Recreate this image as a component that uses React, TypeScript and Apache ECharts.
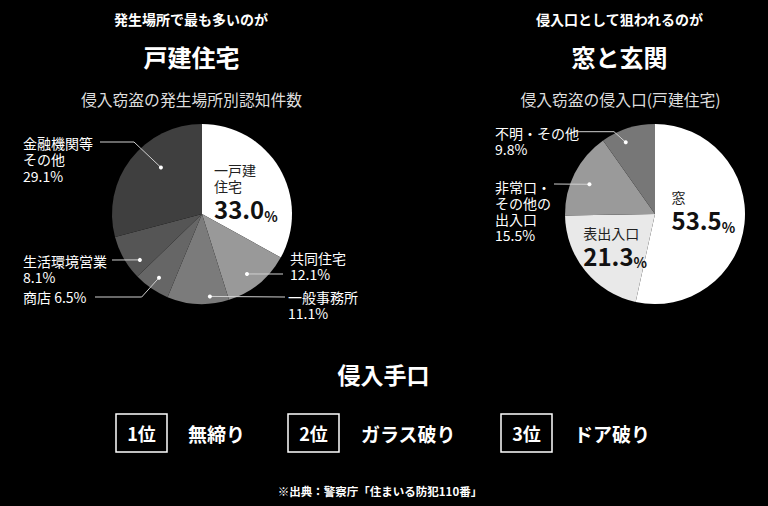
import React, { useEffect, useRef } from 'react';
import * as echarts from 'echarts';

const FONT = '"Noto Sans CJK JP", "Noto Sans", sans-serif';

// ---- data ----
const placeCategories = ['一戸建\n住宅', '共同住宅', '一般事務所', '商店', '生活環境営業', '金融機関等\nその他'];
const placeValues = [33.0, 12.1, 11.1, 6.5, 8.1, 29.1];
const entryCategories = ['窓', '表出入口', '非常口・\nその他の\n出入口', '不明・その他'];
const entryValues = [53.5, 21.3, 15.5, 9.8];
const methodRanks = ['1位', '2位', '3位'];
const methodNames = ['無締り', 'ガラス破り', 'ドア破り'];

// ---- styles / layout ----
const placeColors = ['#ffffff', '#999999', '#7b7b7b', '#666666', '#555555', '#3f3f3f'];
const entryColors = ['#ffffff', '#e9e9e9', '#9a9a9a', '#777777'];
const R = 90;
const leftCenter = [202, 214];
const rightCenter = [655, 214];

type Place = {
  kind: 'inside' | 'outside' | 'inline';
  x: number; y: number; align: 'left' | 'right';
  along?: number; rf?: number; line?: number[][];
};
const placeLayout: Place[] = [
  { kind: 'inside', x: 214, y: 161.5, align: 'left' },
  { kind: 'outside', x: 290, y: 250, align: 'left', along: 0.555, rf: 0.833, line: [[283, 274]] },
  { kind: 'outside', x: 288, y: 289, align: 'left', along: 0.3, rf: 0.92, line: [[285, 297]] },
  { kind: 'inline', x: 23, y: 289, align: 'left', along: 0.49, rf: 0.855, line: [[141.7, 297], [95, 297]] },
  { kind: 'outside', x: 23, y: 252.5, align: 'left', along: 0.26, rf: 0.858, line: [[112, 260]] },
  { kind: 'outside', x: 23, y: 135, align: 'left', along: 0.605, rf: 0.69, line: [[134, 142], [100, 142]] },
];
const entryLayout: Place[] = [
  { kind: 'inside', x: 671.5, y: 189, align: 'left' },
  { kind: 'inside', x: 583.3, y: 224.5, align: 'left' },
  { kind: 'outside', x: 495, y: 178.5, align: 'left', along: 0.455, rf: 0.8, line: [[554, 184]] },
  { kind: 'outside', x: 495, y: 124.5, align: 'left', along: 0.37, rf: 0.86, line: [[614, 131.7], [575.7, 131.7]] },
];

function slicePoint(values: number[], i: number, center: number[], along: number, rf: number) {
  const total = values.reduce((a, b) => a + b, 0);
  let start = 0;
  for (let k = 0; k < i; k++) start += values[k];
  const frac = (start + values[i] * along) / total;
  const ang = frac * Math.PI * 2;
  return [center[0] + R * rf * Math.sin(ang), center[1] - R * rf * Math.cos(ang)];
}

function labelText(name: string, value: number, kind: string) {
  const lines = name.split('\n');
  if (kind === 'inside') {
    return lines.map((l) => `{n|${l}}`).join('\n') + `\n{v|${value.toFixed(1)}}{p|%}`;
  }
  if (kind === 'inline') {
    return `{o|${name} ${value.toFixed(1)}%}`;
  }
  return lines.map((l) => `{o|${l}}`).join('\n') + `\n{o|${value.toFixed(1)}%}`;
}

const rich = {
  n: { fontSize: 14, lineHeight: 16.5, color: '#222', fontFamily: FONT },
  v: { fontSize: 24, lineHeight: 28, color: '#111', fontWeight: 'bold', fontFamily: FONT },
  p: { fontSize: 14, lineHeight: 28, color: '#111', fontWeight: 'bold', fontFamily: FONT, verticalAlign: 'bottom' },
  o: { fontSize: 14, lineHeight: 16.2, color: '#ffffff', fontFamily: FONT },
};

function makePie(cats: string[], vals: number[], colors: string[], layout: Place[], center: number[]) {
  return {
    type: 'pie',
    center,
    radius: R,
    startAngle: 90,
    clockwise: true,
    avoidLabelOverlap: false,
    silent: true,
    data: vals.map((v, i) => ({
      value: v,
      name: cats[i],
      itemStyle: { color: colors[i] },
    })),
    label: {
      show: true,
      position: 'outside',
      formatter: (p: any) => labelText(cats[p.dataIndex], vals[p.dataIndex], layout[p.dataIndex].kind),
      rich,
    },
    labelLine: { show: false },
    labelLayout: (params: any) => {
      const L = layout[params.dataIndex];
      return { x: L.x, y: L.y, align: L.align, verticalAlign: 'top' };
    },
  };
}

// leader lines and end dots, anchored on each slice (computed from the values)
function leaders(vals: number[], layout: Place[], center: number[]) {
  const out: any[] = [];
  layout.forEach((L, i) => {
    if (!L.line) return;
    const p = slicePoint(vals, i, center, L.along!, L.rf!);
    out.push({
      type: 'polyline',
      z: 100,
      silent: true,
      shape: { points: [p, ...L.line] },
      style: { stroke: '#d0d0d0', lineWidth: 1, fill: 'none' },
    });
    out.push({
      type: 'circle',
      z: 101,
      silent: true,
      shape: { cx: p[0], cy: p[1], r: 2 },
      style: { fill: '#ffffff' },
    });
  });
  return out;
}

function txt(text: string, x: number, y: number, size: number, weight: string, color: string, align = 'center') {
  return {
    type: 'text',
    silent: true,
    z: 100,
    style: { text, x, y, fill: color, fontSize: size, fontWeight: weight, fontFamily: FONT, textAlign: align, textVerticalAlign: 'middle' },
  };
}

export default function App() {
  const ref = useRef<HTMLDivElement>(null);
  useEffect(() => {
    document.body.style.margin = '0';
    document.body.style.background = '#000';
    const chart = echarts.init(ref.current!, null, { renderer: 'svg' });
    const boxX = [116, 288, 501];
    const nameX = [188, 361, 574];
    const graphic: any[] = [
      txt('発生場所で最も多いのが', 191, 19, 14, 'bold', '#ffffff'),
      txt('戸建住宅', 191.5, 56.5, 24, 'bold', '#ffffff'),
      txt('侵入窃盗の発生場所別認知件数', 191.5, 99.5, 15.8, 'normal', '#dddddd'),
      txt('侵入口として狙われるのが', 619.5, 19, 14, 'bold', '#ffffff'),
      txt('窓と玄関', 619.5, 56.5, 24, 'bold', '#ffffff'),
      txt('侵入窃盗の侵入口(戸建住宅)', 620.5, 99.5, 15.8, 'normal', '#dddddd'),
      txt('侵入手口', 383.5, 374, 23, 'bold', '#ffffff'),
      txt('※出典：警察庁「住まいる防犯110番」', 380, 491, 11.5, 'bold', '#ffffff'),
      ...leaders(placeValues, placeLayout, leftCenter),
      ...leaders(entryValues, entryLayout, rightCenter),
    ];
    methodRanks.forEach((r, i) => {
      graphic.push({
        type: 'rect',
        silent: true,
        z: 100,
        shape: { x: boxX[i], y: 414, width: 51, height: 38 },
        style: { fill: 'none', stroke: '#ffffff', lineWidth: 1.5 },
      });
      graphic.push(txt(r, boxX[i] + 25.5, 433, 18, 'bold', '#ffffff'));
      graphic.push(txt(methodNames[i], nameX[i], 433, 19, 'bold', '#ffffff', 'left'));
    });
    chart.setOption({
      animation: false,
      backgroundColor: '#000000',
      series: [
        makePie(placeCategories, placeValues, placeColors, placeLayout, leftCenter),
        makePie(entryCategories, entryValues, entryColors, entryLayout, rightCenter),
      ],
      graphic,
    });
    return () => chart.dispose();
  }, []);
  return <div ref={ref} style={{ width: 768, height: 506, background: '#000' }} />;
}
